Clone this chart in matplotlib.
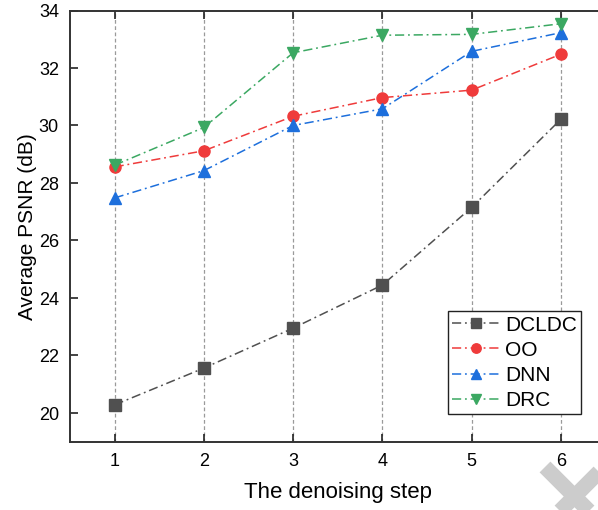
import matplotlib
matplotlib.use("Agg")
import matplotlib.pyplot as plt
from matplotlib.lines import Line2D

steps = [1, 2, 3, 4, 5, 6]
dcldc = [20.28, 21.56, 22.95, 24.45, 27.15, 30.22]
oo = [28.56, 29.12, 30.32, 30.97, 31.23, 32.48]
dnn = [27.48, 28.43, 30.00, 30.58, 32.58, 33.23]
drc = [28.62, 29.93, 32.53, 33.14, 33.17, 33.54]

series = [
    ("DCLDC", dcldc, "#505050", "s"),
    ("OO", oo, "#EF3B3B", "o"),
    ("DNN", dnn, "#1D6FDC", "^"),
    ("DRC", drc, "#3BA862", "v"),
]

plt.rcParams['font.family'] = ['Liberation Sans', 'DejaVu Sans']

fig = plt.figure(figsize=(5.98, 5.102), dpi=100)
W, H = 598, 510
ax = fig.add_axes([70 / W, (H - 441.7) / H, 535.6 / W, 431.0 / H])

for name, vals, col, mk in series:
    ax.plot(steps, vals, linestyle=(0, (6, 2.5, 1.2, 2.5)), linewidth=1.1,
            color=col, marker=mk, markersize=8, label=name, zorder=3,
            clip_on=False)

ax.set_xlim(0.5, 6.5)
ax.set_ylim(19, 34)
ax.set_xticks(steps)
ax.set_yticks([20, 22, 24, 26, 28, 30, 32, 34])
ax.xaxis.grid(True, linestyle=(0, (3, 2)), color="#9a9a9a", linewidth=0.9)
ax.yaxis.grid(False)

for side in ['top', 'bottom', 'left', 'right']:
    ax.spines[side].set_visible(True)
    ax.spines[side].set_color("#333333")
    ax.spines[side].set_linewidth(1.4)
    ax.spines[side].set_zorder(5)

ax.tick_params(axis='both', which='major', direction='in', length=6, width=1.2,
               labelsize=13, top=True, right=True, color="#222222", pad=8)

ax.set_xlabel("The denoising step", fontsize=16, labelpad=9)
ax.set_ylabel("Average PSNR (dB)", fontsize=15, labelpad=1)

leg = ax.legend(loc='lower right', bbox_to_anchor=(0.954, 0.0635), borderaxespad=0,
                fontsize=15, labelspacing=0.3, handlelength=2.3, handletextpad=0.25,
                borderpad=0.2, fancybox=False, framealpha=1, edgecolor="#222222",
                markerscale=0.85)
leg.get_frame().set_linewidth(1.0)

for (x0, y0, x1, y1) in [(545, 467, 608, 530), (604, 467, 541, 530)]:
    fig.add_artist(Line2D([x0 / W, x1 / W], [1 - y0 / H, 1 - y1 / H],
                          color="#cccccc", linewidth=11, solid_capstyle='butt',
                          transform=fig.transFigure, zorder=0))

fig.savefig("out.png", dpi=100)
